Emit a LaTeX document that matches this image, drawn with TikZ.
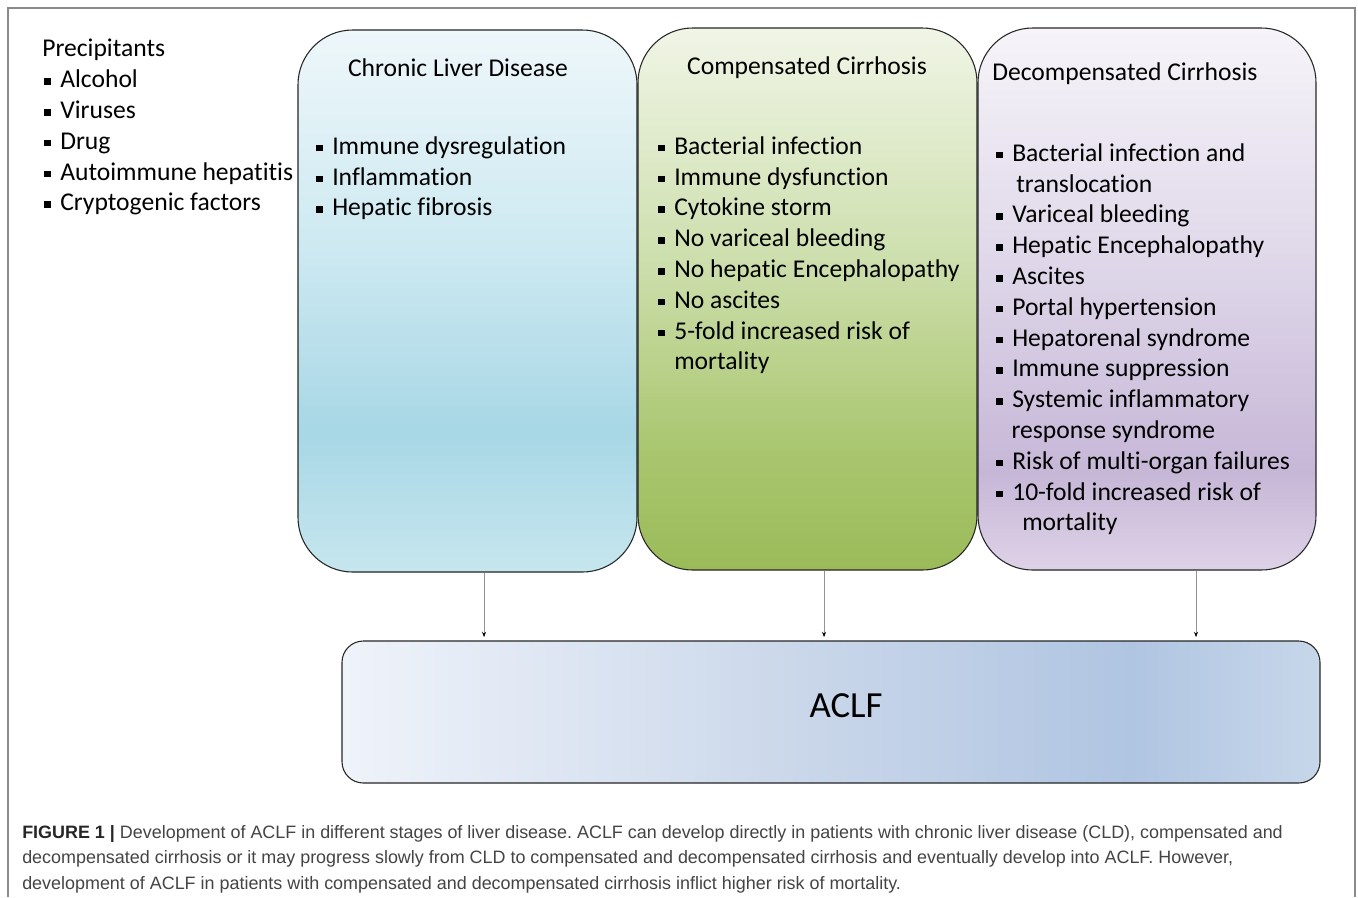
\documentclass[tikz,border=0pt]{standalone}
\usepackage{fontspec}
\setmainfont{Carlito}[Ligatures=NoCommon]
\newfontfamily\capfont{Liberation Sans}
\usetikzlibrary{arrows.meta}
\frenchspacing
\definecolor{cldA}{HTML}{C6E6EE}
\definecolor{cldB}{HTML}{A8D7E5}
\definecolor{cldC}{HTML}{CDE9F1}
\definecolor{cldD}{HTML}{EEF7FA}
\definecolor{ccA}{HTML}{9BBB59}
\definecolor{ccB}{HTML}{A9C66F}
\definecolor{ccC}{HTML}{CFE0B0}
\definecolor{ccD}{HTML}{F0F5E6}
\definecolor{dcA}{HTML}{DED2E7}
\definecolor{dcB}{HTML}{C6B7D7}
\definecolor{dcC}{HTML}{E0D9EA}
\definecolor{dcD}{HTML}{F6F4F9}
\definecolor{acA}{HTML}{EFF3FA}
\definecolor{acB}{HTML}{CAD7EA}
\definecolor{acC}{HTML}{B0C5E2}
\definecolor{acD}{HTML}{C7D7EA}
\definecolor{framegray}{HTML}{8A8A8A}
\definecolor{captext}{HTML}{444444}
\pgfdeclareverticalshading{cldshade}{100bp}{color(0bp)=(cldA); color(25bp)=(cldA); color(38bp)=(cldB); color(54.7bp)=(cldC); color(75bp)=(cldD); color(100bp)=(cldD)}
\pgfdeclareverticalshading{ccshade}{100bp}{color(0bp)=(ccA); color(25bp)=(ccA); color(36bp)=(ccB); color(54.5bp)=(ccC); color(75bp)=(ccD); color(100bp)=(ccD)}
\pgfdeclareverticalshading{dcshade}{100bp}{color(0bp)=(dcA); color(25bp)=(dcA); color(34bp)=(dcB); color(54.5bp)=(dcC); color(75bp)=(dcD); color(100bp)=(dcD)}
\pgfdeclarehorizontalshading{acshade}{100bp}{color(0bp)=(acA); color(25bp)=(acA); color(48.4bp)=(acB); color(65.3bp)=(acC); color(75bp)=(acD); color(100bp)=(acD)}
\newcommand\bu{\makebox[12pt][l]{\rule[2.1pt]{5pt}{5pt}}}
\begin{document}
\begin{tikzpicture}[x=0.75pt,y=-0.75pt,
  stagebox/.style={draw=black!85, line width=0.8pt, rounded corners=41pt,
    minimum width=254.25pt, minimum height=406.5pt, inner sep=0pt},
  listtext/.style={anchor=north west, inner sep=0pt, align=left,
    font=\fontsize{19.2}{23.1}\selectfont},
  titletext/.style={inner sep=0pt, font=\fontsize{19.2}{23.1}\selectfont},
  conn/.style={draw=gray!85, line width=0.6pt, shorten >=2.5pt,
    -{Stealth[length=4pt,width=3pt,black]}},
  frameline/.style={draw=framegray, line width=1.1pt}]
\useasboundingbox (0,0) rectangle (1358,897);
\fill[white] (0,0) rectangle (1358,897);
\draw[frameline] (8,897) -- (8,8) -- (1355,8) -- (1355,897);

% precipitants
\node[listtext] (prec) at (44,35) {\strut\hspace*{-1.5pt}Precipitants\\
\bu Alcohol\\ \bu Viruses\\ \bu Drug\\ \bu Autoimmune hepatitis\\ \bu Cryptogenic factors};

% stage boxes
\node[stagebox, shade, shading=cldshade] (cld) at (467.5,301) {};
\node[stagebox, shade, shading=ccshade] (cc) at (807.5,299) {};
\node[stagebox, shade, shading=dcshade, minimum width=253.5pt] (dc) at (1147,299) {};

% ACLF box
\node[draw=black!85, line width=0.8pt, rounded corners=16pt, shade, shading=acshade,
  minimum width=733.5pt, minimum height=106.5pt, inner sep=0pt] (aclf) at (831,712) {};
\node[inner sep=0pt, anchor=base, font=\fontsize{27.6}{32}\selectfont] (aclflabel) at (846,717) {ACLF};

% titles
\node[titletext, anchor=base] (cldtitle) at (458,76.5) {Chronic Liver Disease};
\node[titletext, anchor=base] (cctitle) at (807,74.5) {Compensated Cirrhosis};
\node[titletext, anchor=base west] (dctitle) at (992,80.5) {Decompensated Cirrhosis};

% lists
\node[listtext] (cldlist) at (316,132.4) {\strut\bu Immune dysregulation\\ \bu Inflammation\\ \bu Hepatic fibrosis};
\node[listtext] (cclist) at (658,132.4) {\strut\bu Bacterial infection\\ \bu Immune dysfunction\\ \bu Cytokine storm\\
\bu No variceal bleeding\\ \bu No hepatic Encephalopathy\\ \bu No ascites\\
\bu 5-fold increased risk of\\ \hspace*{12pt}mortality};
\node[listtext] (dclist) at (996,139.4) {\strut\bu Bacterial infection and\\ \hspace*{15pt}translocation\\
\bu Variceal bleeding\\ \bu Hepatic Encephalopathy\\ \bu Ascites\\ \bu Portal hypertension\\
\bu Hepatorenal syndrome\\ \bu Immune suppression\\ \bu Systemic inflammatory\\
\hspace*{11.5pt}response syndrome\\ \bu Risk of multi-organ failures\\
\bu 10-fold increased risk of\\ \hspace*{19.5pt}mortality};

% connectors
\draw[conn] ([xshift=12.4pt]cld.south) -- ([xshift=12.4pt]cld.south |- aclf.north);
\draw[conn] ([xshift=12.4pt]cc.south) -- ([xshift=12.4pt]cc.south |- aclf.north);
\draw[conn] ([xshift=36.75pt]dc.south) -- ([xshift=36.75pt]dc.south |- aclf.north);

% caption
\node[anchor=north west, inner sep=0pt, align=left, text=captext,
  font=\capfont\fontsize{13.45}{19.1}\selectfont] (caption) at (22,820)
{\strut\textcolor{black!85}{\textbf{FIGURE 1 |}} Development of ACLF in different stages of liver disease. ACLF can develop directly in patients with chronic liver disease (CLD), compensated and\\
decompensated cirrhosis or it may progress slowly from CLD to compensated and decompensated cirrhosis and eventually develop into ACLF. However,\\
development of ACLF in patients with compensated and decompensated cirrhosis inflict higher risk of mortality.};
\end{tikzpicture}
\end{document}
